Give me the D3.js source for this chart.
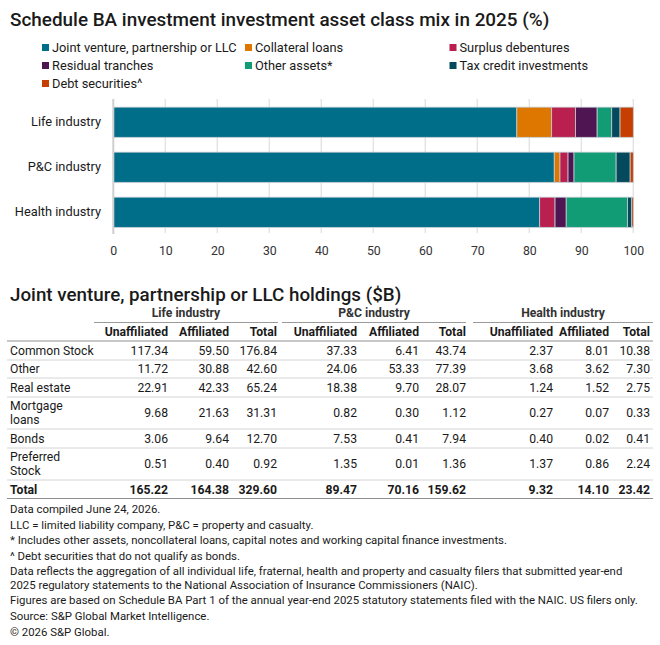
<!DOCTYPE html>
<html><head><meta charset="utf-8">
<script src="https://cdn.jsdelivr.net/npm/d3@7"></script>
<style>
html,body{margin:0;padding:0;background:#fff;}
svg{display:block;font-family:Roboto,"Noto Sans",sans-serif;}
</style></head>
<body>
<svg id="chart" width="660" height="645"></svg>
<script>
// ---- Data ----
const titleText = "Schedule BA investment investment asset class mix in 2025 (%)";
const categories = ["Life industry", "P&C industry", "Health industry"];
const seriesNames = ["Joint venture, partnership or LLC", "Collateral loans", "Surplus debentures",
  "Residual tranches", "Other assets*", "Tax credit investments", "Debt securities^"];
const seriesColors = ["#006d89", "#dd7700", "#b91f4f", "#4f1552", "#129c76", "#04495c", "#c73f00"];
const lifeShares = [77.6, 6.7, 4.6, 4.15, 2.8, 1.6, 2.55];
const pcShares = [84.8, 1.1, 1.55, 1.15, 8.1, 2.7, 0.6];
const healthShares = [82.0, 0, 2.95, 2.15, 11.8, 0.8, 0.3];
const xTicks = [0, 10, 20, 30, 40, 50, 60, 70, 80, 90, 100];

const tableTitle = "Joint venture, partnership or LLC holdings ($B)";
const industryGroups = ["Life industry", "P&C industry", "Health industry"];
const columnHeads = ["Unaffiliated", "Affiliated", "Total"];
const rowLabels = [["Common Stock"], ["Other"], ["Real estate"], ["Mortgage", "loans"], ["Bonds"], ["Preferred", "Stock"], ["Total"]];
const lifeUnaffiliated = [117.34, 11.72, 22.91, 9.68, 3.06, 0.51, 165.22];
const lifeAffiliated = [59.50, 30.88, 42.33, 21.63, 9.64, 0.40, 164.38];
const lifeTotal = [176.84, 42.60, 65.24, 31.31, 12.70, 0.92, 329.60];
const pcUnaffiliated = [37.33, 24.06, 18.38, 0.82, 7.53, 1.35, 89.47];
const pcAffiliated = [6.41, 53.33, 9.70, 0.30, 0.41, 0.01, 70.16];
const pcTotal = [43.74, 77.39, 28.07, 1.12, 7.94, 1.36, 159.62];
const healthUnaffiliated = [2.37, 3.68, 1.24, 0.27, 0.40, 1.37, 9.32];
const healthAffiliated = [8.01, 3.62, 1.52, 0.07, 0.02, 0.86, 14.10];
const healthTotal = [10.38, 7.30, 2.75, 0.33, 0.41, 2.24, 23.42];

const footnotes = [
  "Data compiled June 24, 2026.",
  "LLC = limited liability company, P&C = property and casualty.",
  "* Includes other assets, noncollateral loans, capital notes and working capital finance investments.",
  "^ Debt securities that do not qualify as bonds.",
  ["Data reflects the aggregation of all individual life, fraternal, health and property and casualty filers that submitted year-end",
   "2025 regulatory statements to the National Association of Insurance Commissioners (NAIC)."],
  "Figures are based on Schedule BA Part 1 of the annual year-end 2025 statutory statements filed with the NAIC. US filers only.",
  "Source: S&P Global Market Intelligence.",
  "\u00A9 2026 S&P Global."
];

// ---- Drawing ----
const svg = d3.select("#chart");
const ink = "#1a1a1a";
svg.append("rect").attr("width", 660).attr("height", 645).attr("fill", "#fff");

svg.append("text").attr("x", 10).attr("y", 25.5).attr("font-size", 18.9).attr("font-weight", 500)
  .attr("fill", ink).text(titleText);

// legend
const legendCols = [42, 245, 449.5];
const legendRows = [47.5, 65.5, 83.5];
const legend = svg.append("g");
seriesNames.forEach((name, i) => {
  const lx = legendCols[i % 3], cy = legendRows[Math.floor(i / 3)];
  legend.append("rect").attr("x", lx).attr("y", cy - 3.5).attr("width", 7).attr("height", 7)
    .attr("fill", seriesColors[i]);
  legend.append("text").attr("x", lx + 10).attr("y", cy).attr("dy", "0.35em").attr("font-size", 12.8)
    .attr("fill", ink).text(name);
});

// bars
const x = d3.scaleLinear().domain([0, 100]).range([113.3, 633.3]);
const y = d3.scaleBand().domain(categories).range([99.5, 235]).paddingInner(0.33).paddingOuter(0.17);
const sharesByCat = [lifeShares, pcShares, healthShares];
const rows = categories.map((c, ci) => {
  const o = { cat: c };
  seriesNames.forEach((s, si) => o[s] = sharesByCat[ci][si]);
  return o;
});
const stacked = d3.stack().keys(seriesNames)(rows);

const grid = svg.append("g");
grid.selectAll("line").data(xTicks.filter(t => t > 0)).join("line")
  .attr("x1", d => x(d)).attr("x2", d => x(d)).attr("y1", 99).attr("y2", 233)
  .attr("stroke", "#e4e4e4").attr("stroke-width", 1.5);

const barG = svg.append("g");
stacked.forEach((layer, li) => {
  barG.append("g").attr("fill", seriesColors[li]).selectAll("rect").data(layer).join("rect")
    .attr("x", d => x(d[0])).attr("width", d => Math.max(0, x(d[1]) - x(d[0])))
    .attr("y", d => y(d.data.cat)).attr("height", y.bandwidth())
    .attr("stroke", "#c3ccd3").attr("stroke-width", d => (d[1] - d[0]) > 0 ? 0.8 : 0);
});

svg.append("line").attr("x1", x(0)).attr("x2", x(0)).attr("y1", 99).attr("y2", 234)
  .attr("stroke", "#cfcfcf").attr("stroke-width", 2);

const xAxis = svg.append("g").attr("transform", "translate(0,243)")
  .call(d3.axisBottom(x).tickValues(xTicks).tickSize(0).tickFormat(d3.format("d")));
xAxis.select(".domain").remove();
xAxis.selectAll("text").attr("font-size", 12.3).attr("fill", "#333").attr("font-family", "Roboto,sans-serif");

const yAxis = svg.append("g").attr("transform", "translate(101,0)")
  .call(d3.axisLeft(y).tickSize(0).tickPadding(0));
yAxis.select(".domain").remove();
yAxis.selectAll("text").attr("font-size", 12.8).attr("fill", ink).attr("font-family", "Roboto,sans-serif");

// table
svg.append("text").attr("x", 10).attr("y", 301).attr("font-size", 18.8).attr("font-weight", 500)
  .attr("fill", ink).text(tableTitle);

const groupSpans = [[94, 278], [282, 466], [473, 653]];
const colRight = [[168, 229, 277], [357, 419, 466], [553, 609, 650]];
const groupData = [
  [lifeUnaffiliated, lifeAffiliated, lifeTotal],
  [pcUnaffiliated, pcAffiliated, pcTotal],
  [healthUnaffiliated, healthAffiliated, healthTotal]
];
const rowBounds = [341, 360, 378, 397, 429, 448, 480, 498.5];
const fmt = d3.format(".2f");
const tbl = svg.append("g");

industryGroups.forEach((g, gi) => {
  const [a, b] = groupSpans[gi];
  tbl.append("text").attr("x", (a + b) / 2).attr("y", 313).attr("dy", "0.35em").attr("text-anchor", "middle")
    .attr("font-size", 12.2).attr("font-weight", 700).attr("fill", "#333").text(g);
  tbl.append("line").attr("x1", a).attr("x2", b).attr("y1", 322.5).attr("y2", 322.5)
    .attr("stroke", "#9a9a9a").attr("stroke-width", 1);
  columnHeads.forEach((h, hi) => {
    tbl.append("text").attr("x", colRight[gi][hi]).attr("y", 332).attr("dy", "0.35em").attr("text-anchor", "end")
      .attr("font-size", 12.2).attr("font-weight", 700).attr("fill", ink).text(h);
  });
});

// row lines
rowBounds.forEach((yy, i) => {
  const strong = i === 0 || i === rowBounds.length - 1;
  tbl.append("line").attr("x1", 7).attr("x2", 653).attr("y1", yy).attr("y2", yy)
    .attr("stroke", strong ? "#8f8f8f" : "#d4d4d4").attr("stroke-width", strong ? 1.2 : 1);
});

rowLabels.forEach((lab, ri) => {
  const top = rowBounds[ri], bot = rowBounds[ri + 1];
  const cy = (top + bot) / 2;
  const isTotal = ri === rowLabels.length - 1;
  const t = tbl.append("text").attr("x", 10).attr("font-size", 12.2).attr("fill", ink)
    .attr("font-weight", isTotal ? 700 : 400);
  lab.forEach((line, li) => {
    t.append("tspan").attr("x", 10).attr("y", cy + (li - (lab.length - 1) / 2) * 14).attr("dy", "0.35em").text(line);
  });
  groupData.forEach((cols, gi) => {
    cols.forEach((arr, ci) => {
      tbl.append("text").attr("x", colRight[gi][ci]).attr("y", cy).attr("dy", "0.35em").attr("text-anchor", "end")
        .attr("font-size", 12.2).attr("font-weight", isTotal ? 700 : 400).attr("fill", ink)
        .text(fmt(arr[ri]));
    });
  });
});

// footnotes
const fn = svg.append("g");
let fy = 509;
footnotes.forEach(item => {
  const lines = Array.isArray(item) ? item : [item];
  lines.forEach((line, li) => {
    fn.append("text").attr("x", 10).attr("y", fy).attr("dy", "0.35em").attr("font-size", 11.4)
      .attr("fill", ink).text(line);
    fy += li < lines.length - 1 ? 13.5 : 15.6;
  });
});
</script>
</body></html>
